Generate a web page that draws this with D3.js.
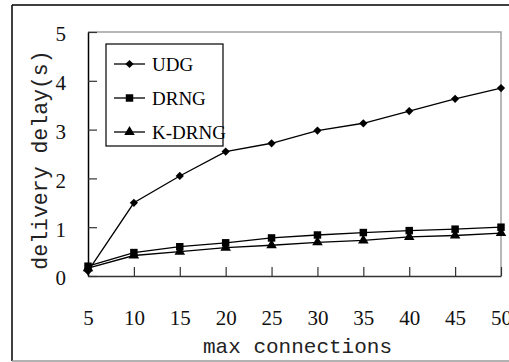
<!DOCTYPE html>
<html>
<head>
<meta charset="utf-8">
<script src="https://cdn.jsdelivr.net/npm/d3@7"></script>
<style>
  body { margin: 0; background: #fff; }
  svg { display: block; }
</style>
</head>
<body>
<div id="chart"></div>
<script>
// chart data
const maxConnections = [5, 10, 15, 20, 25, 30, 35, 40, 45, 50];
const udgDelay   = [0.10, 1.50, 2.05, 2.55, 2.72, 2.98, 3.13, 3.38, 3.63, 3.85];
const drngDelay  = [0.20, 0.48, 0.60, 0.68, 0.78, 0.84, 0.89, 0.93, 0.96, 1.00];
const kdrngDelay = [0.16, 0.42, 0.50, 0.58, 0.63, 0.69, 0.73, 0.80, 0.83, 0.88];
const seriesNames = ["UDG", "DRNG", "K-DRNG"];
const yTicks = [0, 1, 2, 3, 4, 5];

const width = 509, height = 362;
const margin = {left: 88, top: 32, right: 8, bottom: 86};
const serif = "'Liberation Serif', 'Times New Roman', serif";
const mono = "'Liberation Mono', 'Courier New', monospace";

const svg = d3.select("#chart").append("svg")
    .attr("width", width)
    .attr("height", height);

// outer frame
svg.append("line").attr("x1", 12).attr("y1", 5).attr("x2", width).attr("y2", 5)
    .style("stroke", "#000").style("stroke-width", 1.5);
svg.append("line").attr("x1", 12).attr("y1", 5).attr("x2", 12).attr("y2", 361)
    .style("stroke", "#000").style("stroke-width", 1.5);
svg.append("line").attr("x1", 12).attr("y1", 361).attr("x2", width).attr("y2", 361)
    .style("stroke", "#999").style("stroke-width", 1.5);

const x = d3.scaleLinear().domain([5, 50]).range([margin.left, width - margin.right]);
const y = d3.scaleLinear().domain([0, 5]).range([height - margin.bottom, margin.top]);

// gray border of plot area (top, right)
svg.append("path")
    .attr("d", `M${x(5)},${y(5)}H${x(50)}V${y(0)}`)
    .style("fill", "none").style("stroke", "#a0a0a0").style("stroke-width", 1.5);

// x axis, ticks pointing up into the plot
const xAxis = svg.append("g")
    .attr("transform", `translate(0,${y(0)})`)
    .call(d3.axisBottom(x).tickValues(maxConnections).tickSize(-9).tickSizeOuter(0).tickFormat(d3.format("d")))
    .attr("font-family", serif)
    .attr("font-size", 21);
xAxis.select(".domain").style("stroke", "#333").style("stroke-width", 1.5);
xAxis.selectAll(".tick line").style("stroke", "#333").style("stroke-width", 1.2);
xAxis.selectAll(".tick text")
    .attr("y", 49).attr("dy", 0)
    .style("fill", "#111");

// y axis, ticks pointing right into the plot
const yAxis = svg.append("g")
    .attr("transform", `translate(${x(5)},0)`)
    .call(d3.axisLeft(y).tickValues(yTicks).tickSize(-9).tickSizeOuter(0).tickFormat(d3.format("d")))
    .attr("font-family", serif)
    .attr("font-size", 21);
yAxis.select(".domain").style("stroke", "#000").style("stroke-width", 1.5);
yAxis.selectAll(".tick line").style("stroke", "#333").style("stroke-width", 1.2);
yAxis.selectAll(".tick text")
    .attr("x", -22).attr("dy", "0.42em")
    .style("text-anchor", "end")
    .style("fill", "#111");

// axis titles
svg.append("text")
    .attr("x", (x(5) + x(50)) / 2 + 3)
    .attr("y", 353)
    .attr("text-anchor", "middle")
    .style("font-family", mono)
    .style("font-size", "21px")
    .style("fill", "#222")
    .text("max connections");

svg.append("text")
    .attr("transform", "translate(47,160) rotate(-90)")
    .attr("text-anchor", "middle")
    .style("font-family", mono)
    .style("font-size", "21.5px")
    .style("fill", "#222")
    .text("delivery delay(s)");

// series (diamond = square turned 45 degrees)
const series = [
    {name: seriesNames[0], values: udgDelay, symbol: d3.symbolSquare, size: 34, rot: 45},
    {name: seriesNames[1], values: drngDelay, symbol: d3.symbolSquare, size: 56, rot: 0},
    {name: seriesNames[2], values: kdrngDelay, symbol: d3.symbolTriangle, size: 48, rot: 0}
];

const line = d3.line()
    .x((d, i) => x(maxConnections[i]))
    .y(d => y(d));

series.forEach(function(s) {
    svg.append("path")
        .datum(s.values)
        .attr("d", line)
        .style("fill", "none")
        .style("stroke", "#000")
        .style("stroke-width", 1.3);
    svg.append("g").selectAll("path")
        .data(s.values)
        .enter()
        .append("path")
        .attr("d", d3.symbol().type(s.symbol).size(s.size))
        .attr("transform", (d, i) => `translate(${x(maxConnections[i])},${y(d)}) rotate(${s.rot})`)
        .style("fill", "#000");
});

// legend
const legend = svg.append("g");
legend.append("rect")
    .attr("x", 106).attr("y", 44).attr("width", 117).attr("height", 102)
    .style("fill", "#fff").style("stroke", "#000").style("stroke-width", 1.2);

const legendRow = d3.scalePoint().domain(seriesNames).range([64, 132]);

series.forEach(function(s) {
    const ly = legendRow(s.name);
    legend.append("line")
        .attr("x1", 114).attr("x2", 145).attr("y1", ly).attr("y2", ly)
        .style("stroke", "#000").style("stroke-width", 1.3);
    legend.append("path")
        .attr("d", d3.symbol().type(s.symbol).size(s.size))
        .attr("transform", `translate(129.5,${ly}) rotate(${s.rot})`)
        .style("fill", "#000");
    legend.append("text")
        .attr("x", 152).attr("y", ly + 7)
        .style("font-family", serif)
        .style("font-size", "19px")
        .text(s.name);
});
</script>
</body>
</html>
